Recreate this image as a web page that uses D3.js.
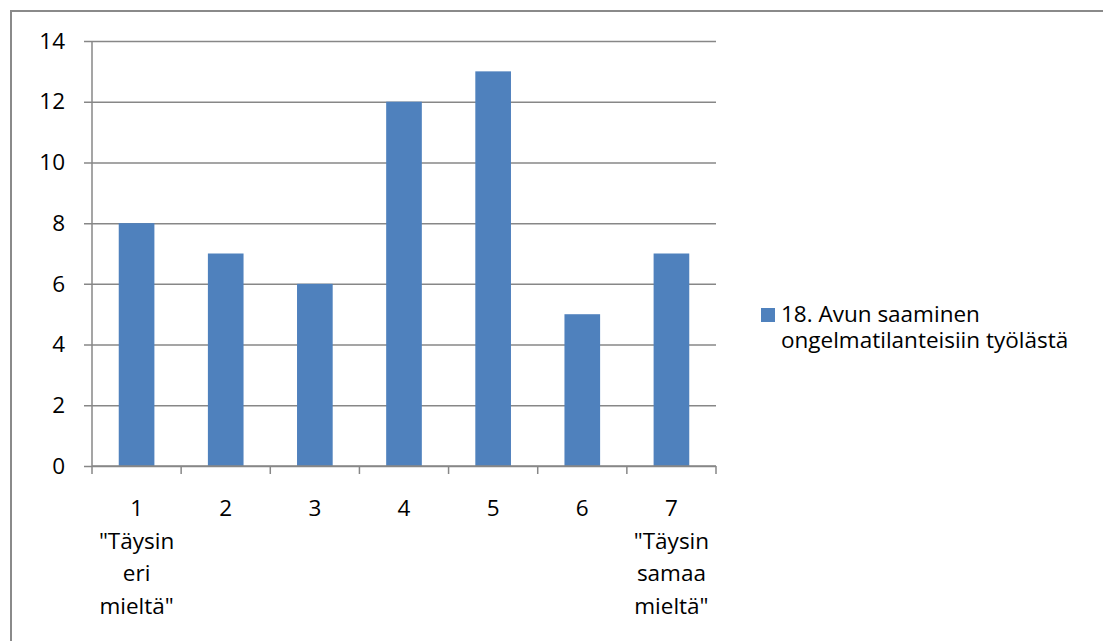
<!DOCTYPE html>
<html>
<head>
<meta charset="utf-8">
<script src="https://cdn.jsdelivr.net/npm/d3@7/dist/d3.min.js"></script>
<style>
  html, body { margin: 0; padding: 0; background: #fff; }
  svg { display: block; }
  text { font-family: "Open Sans", sans-serif; fill: #000; }
</style>
</head>
<body>
<svg id="chart" width="1103" height="641"></svg>
<script>
// Survey answers on a 1–7 agreement scale
const categories = ["1", "2", "3", "4", "5", "6", "7"];
const categoryLabels = [
  ["1", "\"Täysin", "eri", "mieltä\""],
  ["2"], ["3"], ["4"], ["5"], ["6"],
  ["7", "\"Täysin", "samaa", "mieltä\""]
];
const counts = [8, 7, 6, 12, 13, 5, 7];
const yTicks = [0, 2, 4, 6, 8, 10, 12, 14];
const seriesName = ["18. Avun saaminen", "ongelmatilanteisiin työlästä"];

const svg = d3.select("#chart");
const grey = "#878787";
const barColor = "#4F81BD";
const fontSize = 22.5;
const fontFamily = "'Open Sans', sans-serif";

// Outer frame
svg.append("rect")
  .attr("x", 11).attr("y", 11)
  .attr("width", 1200).attr("height", 1000)
  .attr("fill", "none").attr("stroke", "#8a8a8a").attr("stroke-width", 2);

const plot = { left: 92, right: 716, top: 41, bottom: 466 };

const x = d3.scaleBand()
  .domain(categories)
  .range([plot.left, plot.right])
  .paddingInner(0.6)
  .paddingOuter(0.3);

const y = d3.scaleLinear()
  .domain([0, 14])
  .range([plot.bottom, plot.top]);

// Horizontal gridlines with small outward ticks
const yAxis = d3.axisLeft(y)
  .tickValues(yTicks)
  .tickSize(-(plot.right - plot.left))
  .tickSizeOuter(0)
  .tickPadding(27)
  .tickFormat(d3.format("d"));

const gy = svg.append("g")
  .attr("transform", `translate(${plot.left},0)`)
  .call(yAxis);
gy.select(".domain").remove();
gy.selectAll(".tick line")
  .attr("x1", -8)
  .attr("stroke", grey).attr("stroke-width", 1.5);
gy.selectAll(".tick text")
  .attr("font-size", fontSize)
  .attr("font-family", fontFamily)
  .attr("fill", "#000");

// Bars
svg.append("g").selectAll("rect")
  .data(counts)
  .join("rect")
  .attr("x", (d, i) => x(categories[i]))
  .attr("y", d => y(d))
  .attr("width", x.bandwidth())
  .attr("height", d => y(0) - y(d))
  .attr("fill", barColor);

// Vertical axis line
svg.append("line")
  .attr("x1", plot.left).attr("x2", plot.left)
  .attr("y1", plot.top).attr("y2", plot.bottom)
  .attr("stroke", grey).attr("stroke-width", 1.5);

// Category axis: baseline, boundary ticks and multi-line labels
svg.append("line")
  .attr("x1", plot.left).attr("x2", plot.right)
  .attr("y1", plot.bottom).attr("y2", plot.bottom)
  .attr("stroke", grey).attr("stroke-width", 1.5);

const step = x.step();
const boundaries = d3.range(categories.length + 1).map(i => plot.left + i * step);
svg.append("g").selectAll("line")
  .data(boundaries)
  .join("line")
  .attr("x1", d => d).attr("x2", d => d)
  .attr("y1", plot.bottom).attr("y2", plot.bottom + 8)
  .attr("stroke", grey).attr("stroke-width", 1.5);

const labelGroup = svg.append("g");
categories.forEach((c, i) => {
  const cx = x(c) + x.bandwidth() / 2;
  const t = labelGroup.append("text")
    .attr("text-anchor", "middle")
    .attr("font-size", fontSize);
  categoryLabels[i].forEach((line, j) => {
    t.append("tspan")
      .attr("x", cx)
      .attr("y", 516 + j * 32.7)
      .text(line);
  });
});

// Legend
const legend = svg.append("g");
legend.append("rect")
  .attr("x", 761).attr("y", 308)
  .attr("width", 14).attr("height", 14)
  .attr("fill", barColor);
const lt = legend.append("text").attr("font-size", fontSize);
seriesName.forEach((line, j) => {
  lt.append("tspan")
    .attr("x", 781)
    .attr("y", 322 + j * 26)
    .text(line);
});
</script>
</body>
</html>
